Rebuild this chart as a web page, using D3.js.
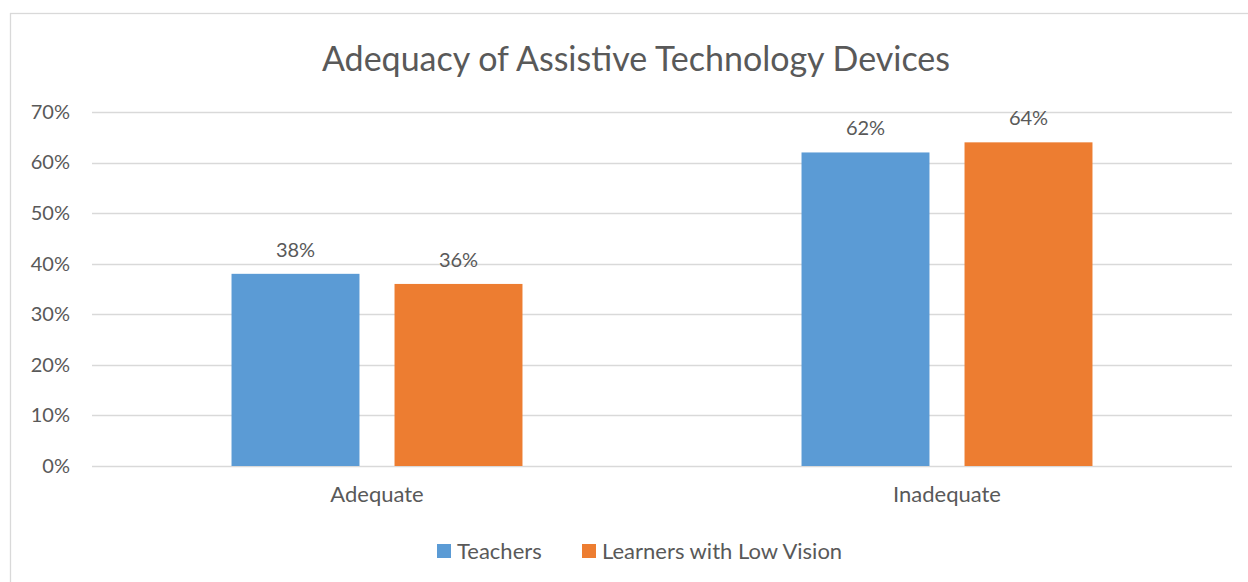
<!DOCTYPE html>
<html lang="en">
<head>
    <meta charset="UTF-8">
    <title>Adequacy of Assistive Technology Devices</title>
    <script src="https://cdnjs.cloudflare.com/ajax/libs/d3/7.8.5/d3.min.js"></script>
    <style>
        body {
            margin: 0;
            background: #fff;
            overflow: hidden;
        }
        svg {
            display: block;
            font-family: Lato, "Open Sans", sans-serif;
        }
        .grid line {
            stroke: #d9d9d9;
            stroke-width: 1.3px;
        }
    </style>
</head>
<body>
    <svg id="chart"></svg>

    <script>
        // data
        const categories = ["Adequate", "Inadequate"];
        const seriesNames = ["Teachers", "Learners with Low Vision"];
        const teachers = [0.38, 0.62];
        const learners = [0.36, 0.64];
        const yTicks = [0, 0.1, 0.2, 0.3, 0.4, 0.5, 0.6, 0.7];
        const colors = ["#5b9bd5", "#ed7d31"];

        const width = 1248, height = 582;
        const textColor = "#595959";
        const numberSize = "20px";
        const wordSize = "22px";

        const svg = d3.select("#chart")
            .attr("width", width)
            .attr("height", height);

        // outer chart frame (runs off the right/bottom edge)
        svg.append("rect")
            .attr("x", 10.5)
            .attr("y", 13.5)
            .attr("width", width)
            .attr("height", height)
            .attr("fill", "none")
            .attr("stroke", "#d9d9d9")
            .attr("stroke-width", 1.3);

        const plot = { left: 92, right: 1232, top: 112, bottom: 466 };

        const x0 = d3.scaleBand()
            .domain(categories)
            .range([plot.left, plot.right]);

        const x1 = d3.scaleBand()
            .domain(seriesNames)
            .range([0, x0.bandwidth()])
            .paddingInner(0.215)
            .paddingOuter(0.856);

        const y = d3.scaleLinear()
            .domain([0, 0.7])
            .range([plot.bottom, plot.top]);

        // title
        svg.append("text")
            .attr("x", 636)
            .attr("y", 71)
            .attr("text-anchor", "middle")
            .attr("fill", textColor)
            .style("font-size", "34px")
            .text("Adequacy of Assistive Technology Devices");

        // gridlines
        svg.append("g")
            .attr("class", "grid")
            .selectAll("line")
            .data(yTicks)
            .enter()
            .append("line")
            .attr("x1", plot.left)
            .attr("x2", plot.right)
            .attr("y1", d => Math.round(y(d)) + 0.5)
            .attr("y2", d => Math.round(y(d)) + 0.5);

        // y axis labels
        const yAxis = d3.axisLeft(y)
            .tickValues(yTicks)
            .tickFormat(d3.format(".0%"))
            .tickSize(0)
            .tickPadding(22);

        const yg = svg.append("g")
            .attr("transform", `translate(${plot.left},0)`)
            .call(yAxis);
        yg.select(".domain").remove();
        yg.selectAll("text")
            .attr("fill", textColor)
            .style("font-size", numberSize)
            .style("font-family", "Lato, 'Open Sans', sans-serif");

        // x axis labels
        const xAxis = d3.axisBottom(x0).tickSize(0).tickPadding(20);
        const xg = svg.append("g")
            .attr("transform", `translate(0,${plot.bottom})`)
            .call(xAxis);
        xg.select(".domain").remove();
        xg.selectAll("text")
            .attr("fill", textColor)
            .style("font-size", wordSize)
            .style("font-family", "Lato, 'Open Sans', sans-serif");

        // bars
        const rows = categories.map((c, i) => ({
            category: c,
            values: [
                { name: seriesNames[0], value: teachers[i], color: colors[0] },
                { name: seriesNames[1], value: learners[i], color: colors[1] }
            ]
        }));

        const groups = svg.append("g")
            .selectAll("g")
            .data(rows)
            .enter()
            .append("g")
            .attr("transform", d => `translate(${x0(d.category)},0)`);

        groups.selectAll("rect")
            .data(d => d.values)
            .enter()
            .append("rect")
            .attr("x", d => x1(d.name))
            .attr("y", d => y(d.value))
            .attr("width", x1.bandwidth())
            .attr("height", d => y(0) - y(d.value))
            .attr("fill", d => d.color);

        groups.selectAll("text")
            .data(d => d.values)
            .enter()
            .append("text")
            .attr("x", d => x1(d.name) + x1.bandwidth() / 2)
            .attr("y", d => y(d.value) - 17)
            .attr("text-anchor", "middle")
            .attr("fill", textColor)
            .style("font-size", numberSize)
            .text(d => d3.format(".0%")(d.value));

        // legend
        const legend = svg.append("g").attr("transform", "translate(437,544)");
        const legendX = [0, 145];
        seriesNames.forEach((name, i) => {
            const item = legend.append("g").attr("transform", `translate(${legendX[i]},0)`);
            item.append("rect")
                .attr("width", 14)
                .attr("height", 14)
                .attr("fill", colors[i]);
            item.append("text")
                .attr("x", 20)
                .attr("y", 15)
                .attr("fill", textColor)
                .style("font-size", wordSize)
                .text(name);
        });
    </script>
</body>
</html>
